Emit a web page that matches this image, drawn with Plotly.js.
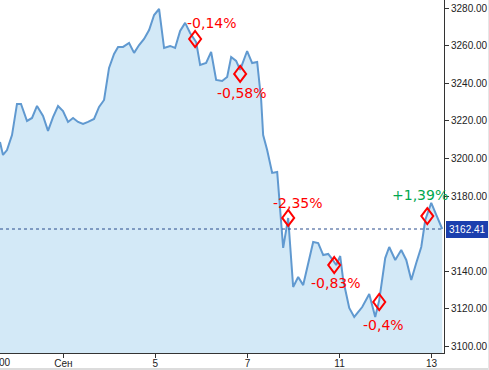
<!DOCTYPE html>
<html>
<head>
<meta charset="utf-8">
<script src="https://cdn.plot.ly/plotly-3.0.1.min.js"></script>
<style>
html,body{margin:0;padding:0;background:#fff;overflow:hidden}
#chart{width:489px;height:370px;position:absolute;left:0;top:0}
#bb{position:absolute;left:0;top:368px;width:489px;height:2px;background:#dcdcdc}
#rb{position:absolute;left:488px;top:0;width:1px;height:370px;background:#e6e6e6}
</style>
</head>
<body>
<div id="chart"></div>
<div id="bb"></div>
<div id="rb"></div>
<script>
// x: trading-day units (0 = 1 Sep), y: index value
const priceX = [-1.376,-1.311,-1.224,-1.115,-1.007,-0.920,-0.789,-0.680,-0.572,-0.441,-0.333,-0.224,-0.115,-0.007,0.102,0.211,0.320,0.428,0.537,0.667,0.776,0.885,0.993,1.102,1.189,1.298,1.428,1.537,1.646,1.754,1.863,1.972,2.080,2.189,2.320,2.428,2.537,2.646,2.754,2.885,2.972,3.102,3.211,3.320,3.450,3.559,3.646,3.754,3.841,3.993,4.102,4.211,4.298,4.341,4.428,4.537,4.646,4.776,4.885,4.993,5.102,5.211,5.428,5.537,5.646,5.754,5.841,5.928,6.015,6.080,6.211,6.320,6.493,6.646,6.776,6.863,6.993,7.080,7.211,7.341,7.450,7.559,7.667,7.776,7.863,7.993,8.102,8.232];
const priceY = [3208.8,3201.9,3204.5,3212.5,3229.1,3229.1,3220.0,3221.6,3228.0,3222.7,3214.7,3222.1,3228.0,3225.3,3219.5,3221.6,3219.5,3218.4,3219.5,3221.1,3227.5,3231.2,3248.3,3255.7,3259.5,3259.5,3261.6,3256.3,3260.5,3263.7,3268.5,3276.5,3279.7,3258.9,3260.0,3258.9,3268.0,3272.3,3266.9,3262.1,3249.9,3250.9,3256.8,3241.9,3241.3,3243.5,3254.1,3252.0,3247.2,3257.3,3250.9,3251.5,3231.2,3212.5,3204.5,3192.3,3192.8,3152.3,3168.3,3131.5,3136.8,3132.5,3155.5,3154.9,3148.5,3149.1,3146.4,3143.2,3148.0,3135.2,3120.3,3115.5,3120.8,3127.7,3115.5,3124.5,3146.9,3152.8,3145.9,3151.2,3145.9,3135.2,3144.3,3152.8,3167.2,3176.3,3169.9,3162.41];
const lastPrice = 3162.41;

const markX = [2.863,3.841,4.885,5.885,6.863,7.907];
const markY = [3263.7,3245.1,3168.3,3143.2,3123.5,3169.3];
const markText = ['-0,14%','-0,58%','-2,35%','-0,83%','-0,4%','+1,39%'];

const tickPos = [0,2,4,6,8];
const tickText = ['Сен','5','7','11','13'];
const yTicks = [3100,3120,3140,3180,3200,3220,3240,3260,3280];

// label offsets (px) relative to each diamond
const labelShift = [[17,16],[2,-19],[10,15],[2,-18],[4,-23],[-7,21]];

const annotations = markText.map((t,i)=>({
  x: markX[i], y: markY[i], xref:'x', yref:'y', text: t, showarrow:false,
  xshift: labelShift[i][0], yshift: labelShift[i][1],
  font:{family:'DejaVu Sans', size:14, color: t.startsWith('+') ? '#00a84f' : '#ff0000'}
}));
annotations.push({
  xref:'paper', x:1, xanchor:'left', xshift:2, yref:'y', y:lastPrice,
  text: lastPrice.toFixed(2), showarrow:false, bgcolor:'#1b3fae', bordercolor:'#1b3fae',
  borderpad:2, font:{family:'Liberation Sans', size:10, color:'#ffffff'}
});
annotations.push({
  xref:'paper', x:0, xanchor:'left', xshift:-3, yref:'paper', y:0, yanchor:'top', yshift:-2,
  text:'00', showarrow:false, font:{family:'Liberation Sans', size:10, color:'#222'}
});

// diamond outlines anchored at the data points, sized in pixels
const diamondShapes = markX.map((x,i)=>({
  type:'path', xref:'x', yref:'y', xsizemode:'pixel', ysizemode:'pixel',
  xanchor:x, yanchor:markY[i], path:'M0,8 L6,0 L0,-8 L-6,0 Z',
  line:{color:'#ff0000', width:2}, fillcolor:'rgba(0,0,0,0)'
}));

const traces = [
  {x: priceX, y: priceY, type:'scatter', mode:'lines', fill:'tozeroy',
   fillcolor:'#d3e9f7', line:{color:'#6099d0', width:2}, hoverinfo:'skip'}
];

const layout = {
  width:489, height:370,
  margin:{l:0, r:45, t:0, b:17, pad:0},
  paper_bgcolor:'#ffffff', plot_bgcolor:'#ffffff',
  showlegend:false,
  xaxis:{range:[-1.376,8.27], tickvals:tickPos, ticktext:tickText, showgrid:false, zeroline:false,
    showline:true, linecolor:'#333', linewidth:1, ticks:'outside', ticklen:4, tickcolor:'#333',
    ticklabelstandoff:-3,
    tickfont:{family:'Liberation Sans', size:10, color:'#222'}},
  yaxis:{range:[3096.3,3284.5], side:'right', tickvals:yTicks, ticktext:yTicks.map(v=>v.toFixed(2)),
    showgrid:false, zeroline:false, showline:true, linecolor:'#333', linewidth:1,
    ticks:'outside', ticklen:4, tickcolor:'#333',
    tickfont:{family:'Liberation Sans', size:10, color:'#222'}},
  shapes:[{type:'line', xref:'paper', x0:0, x1:1, yref:'y', y0:lastPrice, y1:lastPrice,
    line:{color:'#2b4c8c', width:1, dash:'dot'}}].concat(diamondShapes),
  annotations: annotations
};

Plotly.newPlot('chart', traces, layout, {displayModeBar:false, staticPlot:true});
</script>
</body>
</html>
